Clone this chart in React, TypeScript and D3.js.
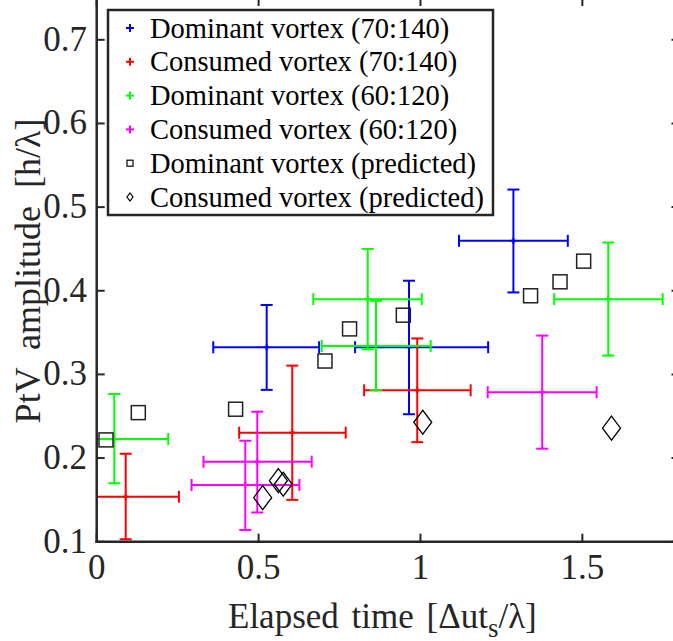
import React from "react";
import * as d3 from "d3";

// ---------- data ----------
type EB = { x: number; y: number; xlo: number; xhi: number; ylo: number; yhi: number };

const dominant70: EB[] = [
  { x: 0.525, y: 0.3325, xlo: 0.36, xhi: 0.687, ylo: 0.2815, yhi: 0.383 },
  { x: 0.9645, y: 0.3325, xlo: 0.798, xhi: 1.209, ylo: 0.2524, yhi: 0.412 },
  { x: 1.287, y: 0.4597, xlo: 1.119, xhi: 1.455, ylo: 0.398, yhi: 0.521 },
];
const consumed70: EB[] = [
  { x: 0.0896, y: 0.1538, xlo: -0.075, xhi: 0.254, ylo: 0.103, yhi: 0.205 },
  { x: 0.604, y: 0.2304, xlo: 0.44, xhi: 0.769, ylo: 0.15, yhi: 0.3105 },
  { x: 0.99, y: 0.281, xlo: 0.826, xhi: 1.155, ylo: 0.219, yhi: 0.343 },
];
const dominant60: EB[] = [
  { x: 0.0544, y: 0.2228, xlo: -0.112, xhi: 0.221, ylo: 0.17, yhi: 0.2767 },
  { x: 0.837, y: 0.39, xlo: 0.669, xhi: 1.004, ylo: 0.33, yhi: 0.45 },
  { x: 0.8626, y: 0.334, xlo: 0.695, xhi: 1.0315, ylo: 0.281, yhi: 0.388 },
  { x: 1.58, y: 0.39, xlo: 1.413, xhi: 1.748, ylo: 0.3225, yhi: 0.4577 },
];
const consumed60: EB[] = [
  { x: 0.496, y: 0.1957, xlo: 0.33, xhi: 0.664, ylo: 0.135, yhi: 0.2555 },
  { x: 0.459, y: 0.1678, xlo: 0.293, xhi: 0.626, ylo: 0.114, yhi: 0.2208 },
  { x: 1.376, y: 0.2787, xlo: 1.2075, xhi: 1.544, ylo: 0.2112, yhi: 0.3464 },
];
const dominantPredX = [0.0287, 0.1285, 0.429, 0.705, 0.781, 0.947, 0.771, 1.34, 1.431, 1.504];
const dominantPredY = [0.2217, 0.2543, 0.2584, 0.316, 0.3544, 0.3708, 0.499, 0.394, 0.4107, 0.4354];
const consumedPredX = [0.5127, 0.561, 0.576, 1.007, 1.59];
const consumedPredY = [0.1526, 0.173, 0.1687, 0.2428, 0.2357];

const xTicks = [0, 0.5, 1, 1.5];
const yTicks = [0.1, 0.2, 0.3, 0.4, 0.5, 0.6, 0.7];
const legendLabels = [
  "Dominant vortex (70:140)",
  "Consumed vortex (70:140)",
  "Dominant vortex (60:120)",
  "Consumed vortex (60:120)",
  "Dominant vortex (predicted)",
  "Consumed vortex (predicted)",
];

// ---------- layout ----------
const W = 673;
const H = 641;
const L = 96.7;
const R = 679.5;
const T = -2;
const B = 541.7;
const AX = "#262626";
const FONT = "'Liberation Serif', 'Times New Roman', serif";

const x = d3.scaleLinear().domain([0, 1.8]).range([L, R]);
const y = d3.scaleLinear().domain([0.1, 0.75]).range([B, T]);

const errSeries = [
  { data: dominant70, color: "#0000ff" },
  { data: consumed70, color: "#ff0000" },
  { data: dominant60, color: "#00ff00" },
  { data: consumed60, color: "#ff00ff" },
];

function ErrorBars({ data, color }: { data: EB[]; color: string }) {
  const cap = 6;
  return (
    <g stroke={color} strokeWidth={2} fill="none">
      {data.map((d, i) => {
        const cx = x(d.x), cy = y(d.y);
        const x0 = x(d.xlo), x1 = x(d.xhi), y0 = y(d.ylo), y1 = y(d.yhi);
        return (
          <g key={i}>
            <line x1={cx} x2={cx} y1={y0} y2={y1} />
            <line x1={cx - cap} x2={cx + cap} y1={y0} y2={y0} />
            <line x1={cx - cap} x2={cx + cap} y1={y1} y2={y1} />
            <line x1={x0} x2={x1} y1={cy} y2={cy} />
            <line x1={x0} x2={x0} y1={cy - cap} y2={cy + cap} />
            <line x1={x1} x2={x1} y1={cy - cap} y2={cy + cap} />
            <line x1={cx - 3} x2={cx + 3} y1={cy} y2={cy} />
            <line x1={cx} x2={cx} y1={cy - 3} y2={cy + 3} />
          </g>
        );
      })}
    </g>
  );
}

function diamondPath(cx: number, cy: number, w: number, h: number) {
  return `M${cx},${cy - h / 2}L${cx + w / 2},${cy}L${cx},${cy + h / 2}L${cx - w / 2},${cy}Z`;
}

export default function App() {
  const tickLen = 8;
  const legX = 108, legY = 10, legW = 385, legH = 205;
  const rowY = (i: number) => 28 + i * 33.8;
  return (
    <svg
      width={W}
      height={H}
      style={{ position: "absolute", left: 0, top: 0, background: "#fff" }}
      fontFamily={FONT}
    >
      <rect x={0} y={0} width={W} height={H} fill="#fff" />
      <defs>
        <clipPath id="plotclip">
          <rect x={L} y={T} width={R - L} height={B - T} />
        </clipPath>
      </defs>
      <g clipPath="url(#plotclip)">
        {errSeries.map((s, i) => (
          <ErrorBars key={i} data={s.data} color={s.color} />
        ))}
        {dominantPredX.map((v, i) => (
          <rect
            key={i}
            x={x(v) - 7}
            y={y(dominantPredY[i]) - 7}
            width={14}
            height={14}
            fill="none"
            stroke="#222"
            strokeWidth={1.5}
          />
        ))}
        {consumedPredX.map((v, i) => (
          <path
            key={i}
            d={diamondPath(x(v), y(consumedPredY[i]), 18, 24)}
            fill="none"
            stroke="#000"
            strokeWidth={1.3}
          />
        ))}
      </g>

      {/* axes box */}
      <g stroke={AX} strokeWidth={2.5} fill="none">
        <line x1={L} x2={L} y1={T} y2={B + 1.25} />
        <line x1={L - 1.25} x2={R} y1={B} y2={B} />
        <line x1={L} x2={R} y1={T} y2={T} />
        <line x1={R} x2={R} y1={T} y2={B} />
      </g>
      <g stroke={AX} strokeWidth={2}>
        {xTicks.map((t) => (
          <g key={t}>
            <line x1={x(t)} x2={x(t)} y1={B} y2={B - tickLen} />
            <line x1={x(t)} x2={x(t)} y1={T} y2={T + tickLen} />
          </g>
        ))}
        {yTicks.map((t) => (
          <g key={t}>
            <line x1={L} x2={L + tickLen} y1={y(t)} y2={y(t)} />
            <line x1={R} x2={R - tickLen} y1={y(t)} y2={y(t)} />
          </g>
        ))}
      </g>
      <g fill={AX} fontSize={35}>
        {xTicks.map((t) => (
          <text key={t} x={x(t)} y={579} textAnchor="middle">
            {d3.format("~g")(t)}
          </text>
        ))}
        {yTicks.map((t) => (
          <text key={t} x={87} y={y(t) + 11} textAnchor="end">
            {t.toFixed(1)}
          </text>
        ))}
      </g>
      <text x={228} y={628} fontSize={35} fill={AX} wordSpacing={4}>
        Elapsed time [Δut
        <tspan fontSize={27} dy={9}>s</tspan>
        <tspan dy={-9}>/λ]</tspan>
      </text>
      <text
        transform={`translate(40,271) rotate(-90)`}
        textAnchor="middle"
        fontSize={36}
        fill={AX}
        wordSpacing={9}
      >
        PtV amplitude [h/λ]
      </text>

      {/* legend */}
      <rect x={legX} y={legY} width={legW} height={legH} fill="#fff" stroke={AX} strokeWidth={2.5} />
      {legendLabels.map((lab, i) => {
        const cy = rowY(i);
        const mx = 130;
        let marker: React.ReactNode = null;
        if (i < 4) {
          const c = errSeries[i].color;
          marker = (
            <g stroke={c} strokeWidth={2}>
              <line x1={mx - 4} x2={mx + 4} y1={cy} y2={cy} />
              <line x1={mx} x2={mx} y1={cy - 4} y2={cy + 4} />
            </g>
          );
        } else if (i === 4) {
          marker = <rect x={mx - 3} y={cy - 3} width={6} height={6} fill="none" stroke="#000" strokeWidth={1.2} />;
        } else {
          marker = <path d={diamondPath(mx, cy, 6, 8)} fill="none" stroke="#000" strokeWidth={1.2} />;
        }
        return (
          <g key={i}>
            {marker}
            <text x={150} y={cy + 9.5} fontSize={28.5} fill="#000">
              {lab}
            </text>
          </g>
        );
      })}
    </svg>
  );
}
